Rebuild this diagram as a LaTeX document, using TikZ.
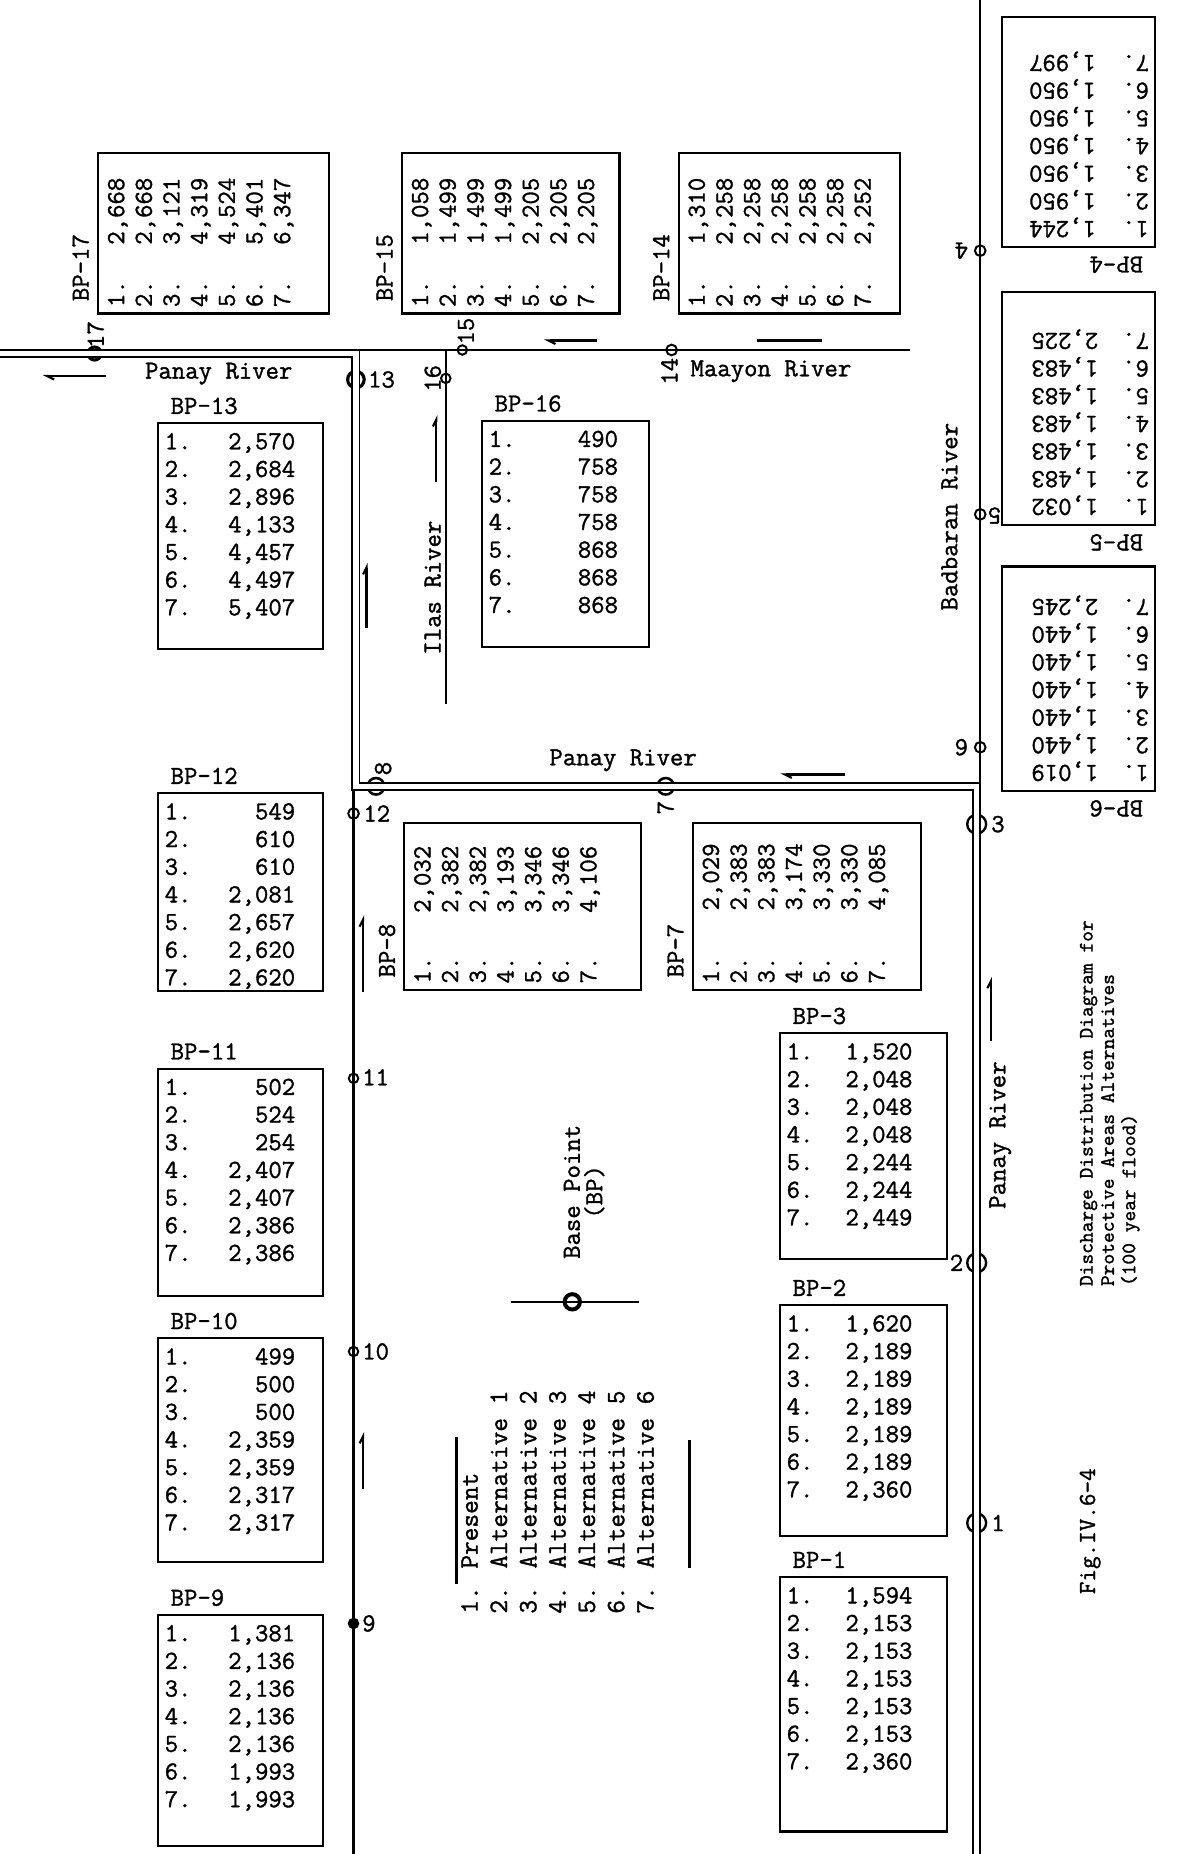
\documentclass[tikz,border=0pt]{standalone}
\usepackage{fontspec}
\newfontfamily\twfont{Latin Modern Mono}[FakeBold=1.3]
\usetikzlibrary{arrows.meta}
\tikzset{
  txt/.style={font=\twfont\fontsize{13.2}{15}\selectfont, inner sep=0pt},
  ttl/.style={font=\twfont\fontsize{10.4}{10.8}\selectfont, inner sep=0pt},
  lgd/.style={font=\twfont\fontsize{13.5}{15}\selectfont, inner sep=0pt},
  bpframe/.style={draw, line width=1.1pt, inner sep=0pt},
  river/.style={line width=1.1pt},
  dblriver/.style={double, double distance=2.7pt, line width=0.9pt, line join=miter},
  gauge/.style={circle, draw, line width=1pt, inner sep=0pt, minimum size=#1},
  flowmark/.style={line width=1.1pt, -{Straight Barb[harpoon, length=3.5pt, width=3.5pt]}},
}
\newcommand{\bpbox}[8]{%
  \begin{scope}[shift={#2}, rotate=#3]
    \node[bpframe, transform shape, anchor=north west, minimum width={#4*0.6pt}, minimum height={#5*0.6pt}] (#1) at (0,0) {};
    \node[txt, transform shape, anchor=base west] (#1-lab) at (11,-7) {#6};
    \foreach \v [count=\i] in {#7} {
      \node[txt, transform shape, anchor=base west] (#1-n\i) at (6,{23+(\i-1)*23.4}) {\i.};
      \node[txt, transform shape, anchor=base east] (#1-v\i) at (#8,{23+(\i-1)*23.4}) {\v};
    }
  \end{scope}}
\begin{document}
\begin{tikzpicture}[x=0.6pt, y=-0.6pt]
\useasboundingbox (0,0) rectangle (995,1568);
\fill[white] (0,0) rectangle (995,1568);

% ---------- junction / gauge nodes ----------
\node[gauge=6.6pt, line width=1.6pt] (n17) at (80,299) {};
\node[gauge=8.4pt, line width=1.6pt] (n13) at (301,321) {};
\node[gauge=4.8pt] (n16) at (377,320) {};
\node[gauge=4.8pt] (n15) at (391,296) {};
\node[gauge=5.4pt] (n14) at (568,296) {};
\node[gauge=8.4pt, line width=1.3pt] (n8) at (318,665) {};
\node[gauge=8.4pt, line width=1.3pt] (n7) at (563,665) {};
\node[gauge=5.4pt] (n12) at (299,688) {};
\node[gauge=4.8pt] (n11) at (299,912) {};
\node[gauge=4.8pt] (n10) at (299,1143) {};
\node[gauge=4.8pt, fill=black] (n9) at (299,1373) {};
\node[gauge=5.4pt] (n4) at (829,212) {};
\node[gauge=5.4pt] (n5) at (829,435) {};
\node[gauge=5.4pt] (n6) at (829,632) {};
\node[gauge=9.6pt, line width=1.2pt] (n3) at (826,697) {};
\node[gauge=9.6pt, line width=1.2pt] (n2) at (826,1068) {};
\node[gauge=9.6pt, line width=1.2pt] (n1) at (826,1288) {};

% ---------- rivers ----------
\coordinate (pL) at (0,299);
\coordinate (cA) at (301,299);
\coordinate (cB) at (301,665);
\coordinate (cC) at (826,665);
\coordinate (pEnd) at (826,1568);
\draw[dblriver] (pL) -- (n17.center) -- (cA) -- (n13.center) -- (cB) -- (n8.center) -- (n7.center) -- (cC) -- (n3.center) -- (n2.center) -- (n1.center) -- (pEnd);
\coordinate (bTop) at (829,0);
\coordinate (bJ) at (829,662);
\draw[river] (bTop) -- (n4.center) -- (n5.center) -- (n6.center) -- (bJ);
\coordinate (mS) at (304,296);
\coordinate (mE) at (770,296);
\draw[river] (mS) -- (n15.center) -- (n14.center) -- (mE);
\coordinate (iT) at (377,296);
\coordinate (iB) at (377,595);
\draw[river] (iT) -- (n16.center) -- (iB);
\coordinate (lT) at (299,668);
\coordinate (lEnd) at (299,1568);
\draw[river] (lT) -- (n12.center) -- (n11.center) -- (n10.center) -- (n9.center) -- (lEnd);

% ---------- gauge labels ----------
\node[txt, rotate=90] (l17) at (81,283) {17};
\node[txt, anchor=west] (l13) at (311,321) {13};
\node[txt, rotate=90] (l16) at (366,320) {16};
\node[txt, rotate=90] (l15) at (394,280) {15};
\node[txt, rotate=90] (l14) at (566,314) {14};
\node[txt, rotate=90] (l8) at (324,650) {8};
\node[txt, rotate=90] (l7) at (563,683) {7};
\node[txt, anchor=west] (l12) at (307,688) {12};
\node[txt, anchor=west] (l11) at (306,911) {11};
\node[txt, anchor=west] (l10) at (306,1143) {10};
\node[txt, anchor=west] (l9) at (306,1373) {9};
\node[txt, rotate=180] (l6) at (813,632) {6};
\node[txt, rotate=180] (l5) at (841,436) {5};
\node[txt, rotate=180] (l4) at (813,212) {4};
\node[txt, anchor=west] (l3) at (838,697) {3};
\node[txt, anchor=east] (l2) at (815,1068) {2};
\node[txt, anchor=west] (l1) at (838,1288) {1};

% ---------- river names ----------
\node[txt] (rPanayU) at (185,316) {Panay River};
\node[txt] (rMaayon) at (652,314) {Maayon River};
\node[txt, rotate=90] (rIlas) at (366,497) {Ilas River};
\node[txt] (rPanayM) at (527,643) {Panay River};
\node[txt, rotate=90] (rBad) at (803,437) {Badbaran River};
\node[txt, rotate=90] (rPanayL) at (846,960) {Panay River};

% ---------- flow marks ----------
\draw[flowmark] (90,318) -- (36,318);
\draw[flowmark] (505,288) -- (460,288);
\draw[river] (640,288) -- (695,288);
\draw[flowmark] (715,655) -- (660,655);
\draw[flowmark] (369,408) -- (369,351);
\draw[flowmark] (310,531) -- (310,476);
\draw[flowmark] (307,839) -- (307,774);
\draw[flowmark] (307,1259) -- (307,1211);
\draw[flowmark] (838,880) -- (838,826);

% ---------- base point boxes ----------
\bpbox{bp17}{(82,266)}{90}{136}{195}{BP-17}{{2,668},{2,668},{3,121},{4,319},{4,524},{5,401},{6,347}}{116}
\bpbox{bp15}{(339,266)}{90}{136}{184}{BP-15}{{1,058},{1,499},{1,499},{1,499},{2,205},{2,205},{2,205}}{116}
\bpbox{bp14}{(573,266)}{90}{136}{187}{BP-14}{{1,310},{2,258},{2,258},{2,258},{2,258},{2,258},{2,252}}{116}
\bpbox{bp13}{(133,357)}{0}{139}{191}{BP-13}{{2,570},{2,684},{2,896},{4,133},{4,457},{4,497},{5,407}}{117}
\bpbox{bp16}{(407,355)}{0}{141}{191}{BP-16}{{490},{758},{758},{758},{868},{868},{868}}{116}
\bpbox{bp12}{(133,670)}{0}{139}{167}{BP-12}{{549},{610},{610},{2,081},{2,657},{2,620},{2,620}}{117}
\bpbox{bp8}{(341,838)}{90}{141}{200}{BP-8}{{2,032},{2,382},{2,382},{3,193},{3,346},{3,346},{4,106}}{123}
\bpbox{bp7}{(585,838)}{90}{141}{193}{BP-7}{{2,029},{2,383},{2,383},{3,174},{3,330},{3,330},{4,085}}{125}
\bpbox{bp11}{(133,903)}{0}{139}{192}{BP-11}{{502},{524},{254},{2,407},{2,407},{2,386},{2,386}}{117}
\bpbox{bp10}{(133,1131)}{0}{139}{189}{BP-10}{{499},{500},{500},{2,359},{2,359},{2,317},{2,317}}{117}
\bpbox{bp9}{(133,1365)}{0}{139}{195}{BP-9}{{1,381},{2,136},{2,136},{2,136},{2,136},{1,993},{1,993}}{117}
\bpbox{bp3}{(659,873)}{0}{141}{191}{BP-3}{{1,520},{2,048},{2,048},{2,048},{2,244},{2,244},{2,449}}{113}
\bpbox{bp2}{(659,1103)}{0}{141}{195}{BP-2}{{1,620},{2,189},{2,189},{2,189},{2,189},{2,189},{2,360}}{113}
\bpbox{bp1}{(659,1333)}{0}{141}{215}{BP-1}{{1,594},{2,153},{2,153},{2,153},{2,153},{2,153},{2,360}}{113}
\bpbox{bp4}{(978,210)}{180}{130}{195}{BP-4}{{1,244},{1,950},{1,950},{1,950},{1,950},{1,950},{1,997}}{108}
\bpbox{bp5}{(978,445)}{180}{130}{197}{BP-5}{{1,032},{1,483},{1,483},{1,483},{1,483},{1,483},{2,225}}{106}
\bpbox{bp6}{(978,670)}{180}{130}{190}{BP-6}{{1,019},{1,440},{1,440},{1,440},{1,440},{1,440},{2,245}}{106}

% ---------- legend ----------
\node[gauge=7.8pt, line width=2pt] (bpsym) at (484,1101) {};
\coordinate (bpL) at (432,1101);
\coordinate (bpR) at (540,1101);
\draw[river] (bpL) -- (bpsym.center) -- (bpR);
\node[txt, font=\twfont\fontsize{13.2}{11.4}\selectfont, rotate=90, align=center] (bptxt) at (494,1008) {Base Point\\(BP)};
\begin{scope}[shift={(380,1370)}, rotate=90]
  \foreach \t [count=\i] in {Present, Alternative 1, Alternative 2, Alternative 3, Alternative 4, Alternative 5, Alternative 6} {
    \node[lgd, transform shape, anchor=base west] (lg-n\i) at (5,{24+(\i-1)*24.8}) {\i.};
    \node[lgd, transform shape, anchor=base west] (lg-t\i) at (43,{24+(\i-1)*24.8}) {\t};
  }
  \draw[line width=1.6pt] (30,6) -- (155,6);
  \draw[line width=1.6pt] (44,203) -- (152,203);
\end{scope}

% ---------- title ----------
\node[ttl, rotate=90, align=left, anchor=north west] (title) at (913,1088) {Discharge Distribution Diagram for\\Protective Areas Alternatives\\(100 year flood)};
\node[ttl, font=\twfont\fontsize{12.4}{13}\selectfont, rotate=90] (fig) at (922,1295) {Fig.IV.6-4};
\end{tikzpicture}
\end{document}
